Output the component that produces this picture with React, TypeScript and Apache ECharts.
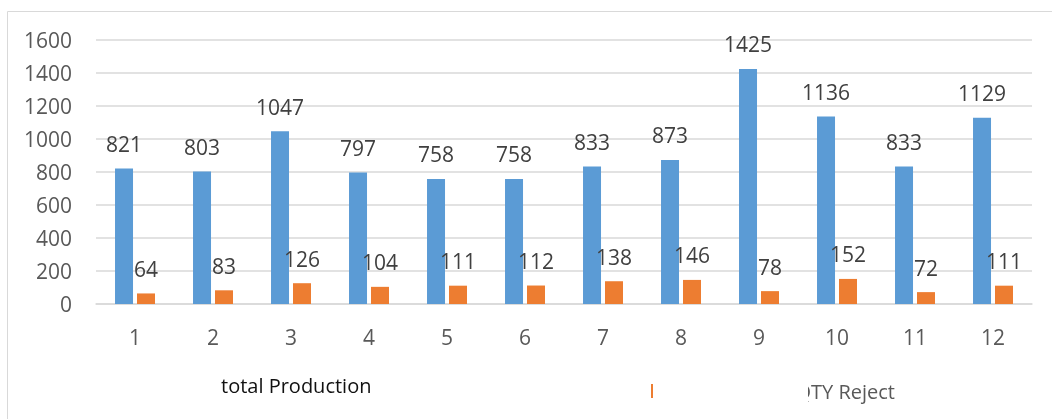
import React, { useEffect, useRef } from "react";
import * as echarts from "echarts";

const categories = ["1", "2", "3", "4", "5", "6", "7", "8", "9", "10", "11", "12"];
const totalProduction = [821, 803, 1047, 797, 758, 758, 833, 873, 1425, 1136, 833, 1129];
const qtyReject = [64, 83, 126, 104, 111, 112, 138, 146, 78, 152, 72, 111];
const seriesNames = ["total Production", "QTY Reject"];

const FONT = "'Open Sans', 'Noto Sans', sans-serif";

export default function App() {
  const ref = useRef<HTMLDivElement>(null);
  useEffect(() => {
    if (!ref.current) return;
    const chart = echarts.init(ref.current, undefined, { renderer: "svg" });
    chart.setOption({
      animation: false,
      textStyle: { fontFamily: FONT },
      grid: { left: 96, right: 20, top: 40, bottom: 115, containLabel: false },
      xAxis: {
        type: "category",
        data: categories,
        axisLine: { show: true, lineStyle: { color: "#d9d9d9", width: 1.5 } },
        axisTick: { show: false },
        axisLabel: { color: "#595959", fontSize: 21, margin: 22, fontFamily: FONT },
      },
      yAxis: {
        type: "value",
        min: 0,
        max: 1600,
        interval: 200,
        axisLine: { show: false },
        axisTick: { show: false },
        splitLine: { lineStyle: { color: "#d9d9d9", width: 1.5 } },
        axisLabel: {
          color: "#595959",
          fontSize: 21,
          margin: 24,
          fontFamily: FONT,
          formatter: (v: number) => String(v),
        },
      },
      series: [
        {
          name: seriesNames[0],
          type: "bar",
          data: totalProduction,
          barWidth: 18,
          barGap: "22%",
          itemStyle: { color: "#5b9bd5" },
          label: { show: true, position: "top", distance: 14, color: "#404040", fontSize: 21, fontFamily: FONT },
        },
        {
          name: seriesNames[1],
          type: "bar",
          data: qtyReject,
          barWidth: 18,
          barGap: "22%",
          itemStyle: { color: "#ed7d31" },
          label: { show: true, position: "top", distance: 14, color: "#404040", fontSize: 21, fontFamily: FONT },
        },
      ],
      graphic: [
        {
          type: "rect",
          shape: { x: 7.5, y: 11.5, width: 1100, height: 500 },
          style: { fill: "none", stroke: "#d9d9d9", lineWidth: 1 },
          silent: true,
        },
        {
          type: "text",
          x: 221,
          y: 385,
          style: { text: seriesNames[0], fill: "#111111", font: `20px ${FONT}`, textVerticalAlign: "middle", textAlign: "left" },
        },
        {
          type: "rect",
          shape: { x: 651, y: 384, width: 2, height: 14 },
          style: { fill: "#ed7d31" },
        },
        {
          type: "text",
          x: 895,
          y: 391,
          style: { text: seriesNames[1], fill: "#595959", font: `20px ${FONT}`, textVerticalAlign: "middle", textAlign: "right" },
        },
        {
          type: "rect",
          shape: { x: 770, y: 375, width: 38, height: 32 },
          style: { fill: "#ffffff" },
          z: 100,
        },
      ],
    });
    return () => chart.dispose();
  }, []);
  return <div ref={ref} style={{ position: "fixed", left: 0, top: 0, width: 1052, height: 419 }} />;
}
